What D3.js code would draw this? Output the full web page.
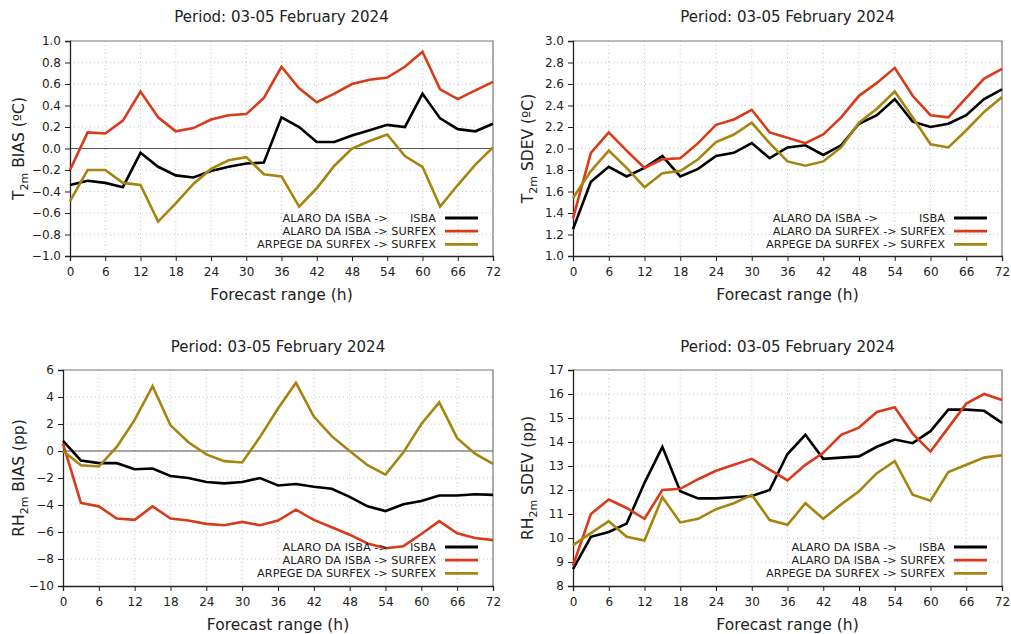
<!DOCTYPE html>
<html><head><meta charset="utf-8">
<script src="https://cdn.jsdelivr.net/npm/d3@7"></script>
<style>
body{margin:0;background:#fff;}
svg{font-family:"DejaVu Sans",sans-serif;}
</style></head>
<body><svg id="c" width="1011" height="634"></svg>
<script>
const hours = d3.range(0, 73, 3);
const xTicks = [0,6,12,18,24,30,36,42,48,54,60,66,72];
const title = "Period: 03-05 February 2024";
const xLabel = "Forecast range (h)";

// Panel 1: T2m BIAS
const t2mBiasIsba   = [-0.34,-0.30,-0.32,-0.36,-0.04,-0.17,-0.25,-0.27,-0.21,-0.17,-0.14,-0.13,0.29,0.20,0.06,0.06,0.12,0.17,0.22,0.20,0.51,0.28,0.18,0.16,0.23];
const t2mBiasSurfex = [-0.20,0.15,0.14,0.26,0.53,0.29,0.16,0.19,0.27,0.31,0.32,0.47,0.76,0.56,0.43,0.51,0.60,0.64,0.66,0.76,0.90,0.55,0.46,0.54,0.62];
const t2mBiasArpege = [-0.49,-0.20,-0.20,-0.32,-0.34,-0.68,-0.51,-0.33,-0.19,-0.11,-0.08,-0.24,-0.26,-0.54,-0.37,-0.16,0.00,0.07,0.13,-0.07,-0.17,-0.54,-0.34,-0.15,0.01];
const t2mBiasTicks = [-1.0,-0.8,-0.6,-0.4,-0.2,0.0,0.2,0.4,0.6,0.8,1.0];

// Panel 2: T2m SDEV
const t2mSdevIsba   = [1.25,1.69,1.83,1.74,1.82,1.93,1.74,1.81,1.93,1.96,2.05,1.91,2.01,2.03,1.94,2.03,2.23,2.31,2.46,2.25,2.20,2.23,2.31,2.46,2.55];
const t2mSdevSurfex = [1.35,1.96,2.15,1.98,1.82,1.90,1.91,2.05,2.22,2.27,2.36,2.15,2.10,2.05,2.13,2.29,2.49,2.61,2.75,2.49,2.31,2.29,2.47,2.65,2.74];
const t2mSdevArpege = [1.54,1.79,1.98,1.82,1.64,1.77,1.79,1.90,2.06,2.13,2.24,2.05,1.88,1.84,1.88,2.01,2.24,2.37,2.53,2.29,2.04,2.01,2.17,2.34,2.48];
const t2mSdevTicks = [1.0,1.2,1.4,1.6,1.8,2.0,2.2,2.4,2.6,2.8,3.0];

// Panel 3: RH2m BIAS
const rhBiasIsba   = [0.75,-0.7,-0.9,-0.9,-1.35,-1.3,-1.85,-2.0,-2.3,-2.4,-2.3,-2.0,-2.55,-2.45,-2.65,-2.8,-3.4,-4.1,-4.45,-3.95,-3.7,-3.3,-3.3,-3.2,-3.25];
const rhBiasSurfex = [0.55,-3.85,-4.1,-5.0,-5.1,-4.1,-5.0,-5.15,-5.4,-5.5,-5.25,-5.5,-5.15,-4.35,-5.1,-5.65,-6.2,-6.85,-7.2,-7.05,-6.15,-5.2,-6.1,-6.45,-6.6];
const rhBiasArpege = [0.0,-1.05,-1.15,0.3,2.3,4.8,1.9,0.65,-0.25,-0.75,-0.85,1.05,3.15,5.05,2.55,1.1,0.0,-1.05,-1.75,-0.1,2.0,3.6,0.95,-0.2,-0.95];
const rhBiasTicks = [-10,-8,-6,-4,-2,0,2,4,6];

// Panel 4: RH2m SDEV
const rhSdevIsba   = [8.7,10.05,10.25,10.6,12.3,13.8,11.95,11.65,11.65,11.7,11.75,12.0,13.5,14.3,13.3,13.35,13.4,13.8,14.1,13.95,14.45,15.35,15.35,15.3,14.8];
const rhSdevSurfex = [8.85,11.0,11.6,11.25,10.8,12.0,12.05,12.45,12.8,13.05,13.3,12.85,12.4,13.05,13.55,14.3,14.6,15.25,15.45,14.35,13.6,14.6,15.6,16.0,15.75];
const rhSdevArpege = [9.7,10.2,10.7,10.05,9.9,11.7,10.65,10.8,11.2,11.45,11.8,10.75,10.55,11.45,10.8,11.4,11.95,12.7,13.2,11.8,11.55,12.75,13.05,13.35,13.45];
const rhSdevTicks = [8,9,10,11,12,13,14,15,16,17];

const colors = ["#000000", "#d83b1a", "#a5850f"];

const panels = [
  {box:{l:70,r:493,t:41,b:256}, yDom:[-1,1], ticks:t2mBiasTicks, fmt:d3.format(".1f"),
   ylab:["T","2m"," BIAS (ºC)"], ylx:18, zero:true, titleY:17, xlabY:300, legY:218,
   series:[t2mBiasIsba,t2mBiasSurfex,t2mBiasArpege],
   legend:[["ALARO DA ISBA ->","ISBA"],["ALARO DA ISBA -> SURFEX"],["ARPEGE DA SURFEX -> SURFEX"]]},
  {box:{l:573,r:1002,t:41,b:256}, yDom:[1,3], ticks:t2mSdevTicks, fmt:d3.format(".1f"),
   ylab:["T","2m"," SDEV (ºC)"], ylx:527, zero:false, titleY:17, xlabY:300, legY:218,
   series:[t2mSdevIsba,t2mSdevSurfex,t2mSdevArpege],
   legend:[["ALARO DA ISBA ->","ISBA"],["ALARO DA SURFEX -> SURFEX"],["ARPEGE DA SURFEX -> SURFEX"]]},
  {box:{l:63,r:493,t:370,b:586}, yDom:[-10,6], ticks:rhBiasTicks, fmt:d3.format("d"),
   ylab:["RH","2m"," BIAS (pp)"], ylx:18, zero:true, titleY:347, xlabY:630, legY:547,
   series:[rhBiasIsba,rhBiasSurfex,rhBiasArpege],
   legend:[["ALARO DA ISBA ->","ISBA"],["ALARO DA ISBA -> SURFEX"],["ARPEGE DA SURFEX -> SURFEX"]]},
  {box:{l:573,r:1002,t:370,b:586}, yDom:[8,17], ticks:rhSdevTicks, fmt:d3.format("d"),
   ylab:["RH","2m"," SDEV (pp)"], ylx:527, zero:false, titleY:347, xlabY:630, legY:547,
   series:[rhSdevIsba,rhSdevSurfex,rhSdevArpege],
   legend:[["ALARO DA ISBA ->","ISBA"],["ALARO DA ISBA -> SURFEX"],["ARPEGE DA SURFEX -> SURFEX"]]}
];

const svg = d3.select("#c");

panels.forEach(p => {
  const b = p.box;
  const x = d3.scaleLinear().domain([0,72]).range([b.l,b.r]);
  const y = d3.scaleLinear().domain(p.yDom).range([b.b,b.t]);
  const g = svg.append("g");

  // grid
  g.append("g").selectAll("line").data(xTicks.slice(1,-1)).join("line")
    .attr("x1",d=>x(d)).attr("x2",d=>x(d)).attr("y1",b.t).attr("y2",b.b)
    .attr("stroke","#c8c8c8").attr("stroke-width",1).attr("stroke-dasharray","1,3");
  g.append("g").selectAll("line").data(p.ticks.slice(1,-1)).join("line")
    .attr("x1",b.l).attr("x2",b.r).attr("y1",d=>y(d)).attr("y2",d=>y(d))
    .attr("stroke","#c8c8c8").attr("stroke-width",1).attr("stroke-dasharray","1,3");

  if (p.zero) {
    g.append("line").attr("x1",b.l).attr("x2",b.r).attr("y1",y(0)).attr("y2",y(0))
      .attr("stroke","#555").attr("stroke-width",1);
  }

  // frame top/right
  g.append("path").attr("d",`M${b.l},${b.t}H${b.r}V${b.b}`).attr("fill","none")
    .attr("stroke","#777").attr("stroke-width",1.2);

  // axes
  const xa = g.append("g").attr("transform",`translate(0,${b.b})`)
    .call(d3.axisBottom(x).tickValues(xTicks).tickSize(5).tickPadding(6).tickFormat(d3.format("d")));
  const ya = g.append("g").attr("transform",`translate(${b.l},0)`)
    .call(d3.axisLeft(y).tickValues(p.ticks).tickSize(5).tickPadding(4).tickFormat(p.fmt));
  [xa,ya].forEach(a=>{
    a.select(".domain").attr("stroke","#222").attr("stroke-width",1.3);
    a.selectAll(".tick line").attr("stroke","#222");
    a.selectAll("text").attr("font-size",12).attr("fill","#222")
      .attr("font-family","DejaVu Sans, sans-serif");
  });

  // lines
  const line = d3.line().x((d,i)=>x(hours[i])).y(d=>y(d));
  p.series.forEach((s,k)=>{
    g.append("path").datum(s).attr("d",line).attr("fill","none")
      .attr("stroke",colors[k]).attr("stroke-width",2.6).attr("stroke-linejoin","miter");
  });

  // title
  g.append("text").attr("x",(b.l+b.r)/2).attr("y",p.titleY+5).attr("text-anchor","middle")
    .attr("font-size",15).attr("fill","#222").text(title);
  // x label
  g.append("text").attr("x",(b.l+b.r)/2).attr("y",p.xlabY).attr("text-anchor","middle")
    .attr("font-size",15.5).attr("fill","#222").text(xLabel);
  // y label
  const yl = g.append("text").attr("transform",`translate(${p.ylx+6},${(b.t+b.b)/2}) rotate(-90)`)
    .attr("text-anchor","middle").attr("font-size",15.5).attr("fill","#222");
  yl.append("tspan").text(p.ylab[0]);
  yl.append("tspan").attr("font-size",11).attr("dy",4).text(p.ylab[1]);
  yl.append("tspan").attr("dy",-4).text(p.ylab[2]);

  // legend
  const textRight = b.r - 57, lx1 = b.r - 48, lx2 = b.r - 15;
  const rows = p.legend.map((lab,k)=>({lab,k,yy:p.legY + k*13.2}));
  let startX = textRight;
  rows.forEach(r=>{
    if (r.lab.length===1) {
      const t = g.append("text").attr("x",textRight).attr("y",r.yy+4).attr("text-anchor","end")
        .attr("font-size",11.3).attr("fill","#222").text(r.lab[0]);
      if (r.k===1) startX = textRight - t.node().getComputedTextLength();
    }
  });
  rows.forEach(r=>{
    if (r.lab.length===2) {
      g.append("text").attr("x",startX).attr("y",r.yy+4).attr("text-anchor","start")
        .attr("font-size",11.3).attr("fill","#222").text(r.lab[0]);
      g.append("text").attr("x",textRight).attr("y",r.yy+4).attr("text-anchor","end")
        .attr("font-size",11.3).attr("fill","#222").text(r.lab[1]);
    }
    g.append("line").attr("x1",lx1).attr("x2",lx2).attr("y1",r.yy).attr("y2",r.yy)
      .attr("stroke",colors[r.k]).attr("stroke-width",2.8);
  });
});
</script></body></html>
